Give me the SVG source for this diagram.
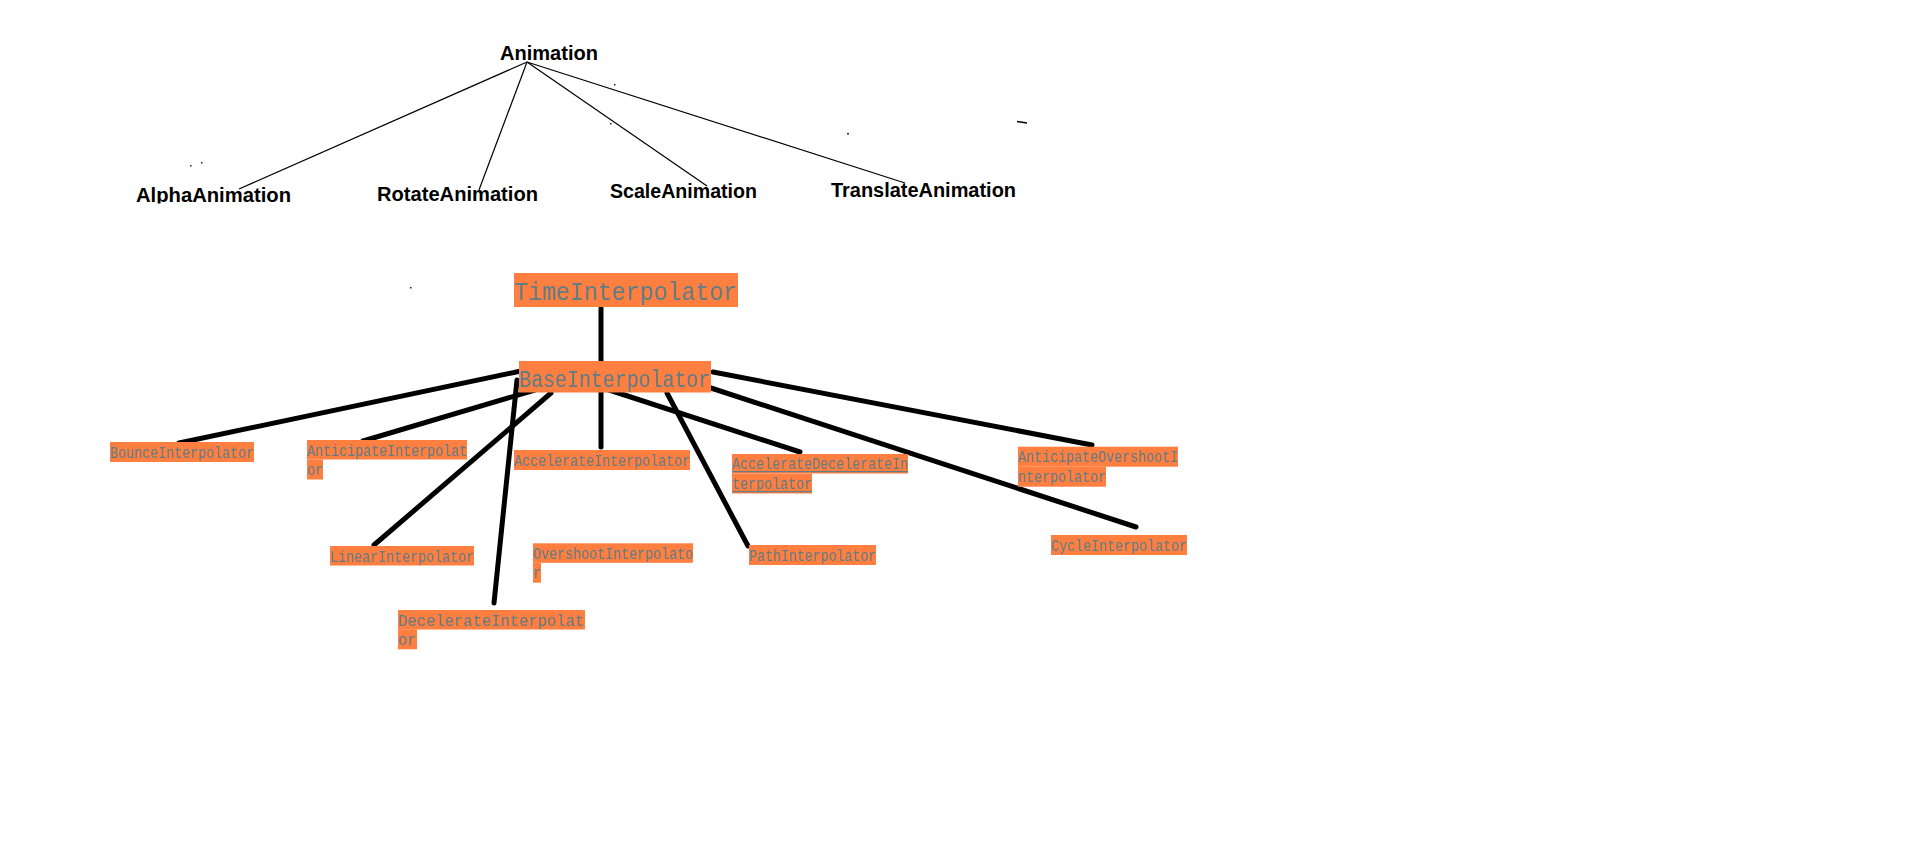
<svg xmlns="http://www.w3.org/2000/svg" width="1914" height="868" viewBox="0 0 1914 868">
<style>
.bg{fill:#ffffff}
.top{stroke:#000;stroke-width:1.2;fill:none}
.thick{stroke:#000;stroke-width:5;stroke-linecap:round;fill:none}
.hl{fill:#FF7F41}
.lbl{font-family:"Liberation Mono","DejaVu Sans Mono",monospace;font-size:16px;fill:#617D86}
.big{font-family:"Liberation Mono","DejaVu Sans Mono",monospace;fill:#617D86}
.anim{font-family:"Liberation Sans",Arial,sans-serif;font-weight:bold;font-size:20px;fill:#000}
.ul{stroke:#617D86;stroke-width:1.2}
.speck{fill:#222}
</style>
<defs>
<clipPath id="clipAlpha"><rect x="120" y="170" width="200" height="33.5"/></clipPath>
</defs>
<rect class="bg" x="0" y="0" width="1914" height="868"/>

<g id="connectors">
<line class="top" x1="527" y1="62" x2="239" y2="189"/>
<line class="top" x1="527" y1="62" x2="479" y2="190"/>
<line class="top" x1="527" y1="62" x2="707" y2="186"/>
<line class="top" x1="527" y1="62" x2="905" y2="183"/>
<line class="thick" x1="601" y1="308" x2="601" y2="361"/>
<line class="thick" x1="521" y1="371" x2="179" y2="443"/>
<line class="thick" x1="535" y1="390" x2="363" y2="441"/>
<line class="thick" x1="517" y1="380" x2="494" y2="603"/>
<line class="thick" x1="551" y1="393" x2="374" y2="545"/>
<line class="thick" x1="601" y1="388" x2="601" y2="447"/>
<line class="thick" x1="603" y1="388" x2="800" y2="452"/>
<line class="thick" x1="667" y1="393" x2="748" y2="546"/>
<line class="thick" x1="711" y1="388" x2="1136" y2="527"/>
<line class="thick" x1="713" y1="372" x2="1092" y2="445"/>
</g>

<g id="Animation"><text class="anim" x="500" y="60" textLength="98" lengthAdjust="spacingAndGlyphs">Animation</text></g>
<g id="AlphaAnimation" clip-path="url(#clipAlpha)"><text class="anim" x="136" y="202" textLength="155" lengthAdjust="spacingAndGlyphs">AlphaAnimation</text></g>
<g id="RotateAnimation"><text class="anim" x="377" y="201" textLength="161" lengthAdjust="spacingAndGlyphs">RotateAnimation</text></g>
<g id="ScaleAnimation"><text class="anim" x="610" y="198" textLength="147" lengthAdjust="spacingAndGlyphs">ScaleAnimation</text></g>
<g id="TranslateAnimation"><text class="anim" x="831" y="196.5" textLength="185" lengthAdjust="spacingAndGlyphs">TranslateAnimation</text></g>

<g id="TimeInterpolator">
<rect class="hl" x="514" y="273" width="224" height="34"/>
<text class="big" x="514" y="299.5" font-size="26" textLength="223" lengthAdjust="spacingAndGlyphs">TimeInterpolator</text>
</g>
<g id="BaseInterpolator">
<rect class="hl" x="519" y="361" width="192" height="31.5"/>
<text class="big" x="519" y="387" font-size="23" textLength="191" lengthAdjust="spacingAndGlyphs">BaseInterpolator</text>
</g>

<g id="BounceInterpolator">
<rect class="hl" x="110" y="442" width="144" height="20"/>
<text class="lbl" x="110" y="457.5" textLength="144" lengthAdjust="spacingAndGlyphs">BounceInterpolator</text>
</g>
<g id="AnticipateInterpolator">
<rect class="hl" x="307" y="440" width="160" height="19.5"/>
<rect class="hl" x="307" y="459.5" width="16" height="20"/>
<text class="lbl" x="307" y="455.5" textLength="160" lengthAdjust="spacingAndGlyphs">AnticipateInterpolat</text>
<text class="lbl" x="307" y="475" textLength="16" lengthAdjust="spacingAndGlyphs">or</text>
</g>
<g id="AccelerateInterpolator">
<rect class="hl" x="514" y="450" width="176" height="20"/>
<text class="lbl" x="514" y="465.5" textLength="176" lengthAdjust="spacingAndGlyphs">AccelerateInterpolator</text>
</g>
<g id="AccelerateDecelerateInterpolator">
<rect class="hl" x="732" y="454" width="176" height="19.5"/>
<rect class="hl" x="732" y="473.5" width="80" height="20"/>
<text class="lbl" x="732" y="469" textLength="176" lengthAdjust="spacingAndGlyphs">AccelerateDecelerateIn</text>
<text class="lbl" x="732" y="489" textLength="80" lengthAdjust="spacingAndGlyphs">terpolator</text>
<line class="ul" x1="732" y1="471.7" x2="908" y2="471.7"/>
<line class="ul" x1="732" y1="491.7" x2="812" y2="491.7"/>
</g>
<g id="AnticipateOvershootInterpolator">
<rect class="hl" x="1018" y="446.7" width="160" height="20"/>
<rect class="hl" x="1018" y="466.7" width="88" height="20"/>
<text class="lbl" x="1018" y="462" textLength="160" lengthAdjust="spacingAndGlyphs">AnticipateOvershootI</text>
<text class="lbl" x="1018" y="482" textLength="88" lengthAdjust="spacingAndGlyphs">nterpolator</text>
</g>
<g id="LinearInterpolator">
<rect class="hl" x="330" y="546" width="144" height="19.5"/>
<text class="lbl" x="330" y="561.5" textLength="144" lengthAdjust="spacingAndGlyphs">LinearInterpolator</text>
</g>
<g id="OvershootInterpolator">
<rect class="hl" x="533" y="543.3" width="160" height="19.5"/>
<rect class="hl" x="533" y="562.7" width="8" height="20"/>
<text class="lbl" x="533" y="558.5" textLength="160" lengthAdjust="spacingAndGlyphs">OvershootInterpolato</text>
<text class="lbl" x="533" y="578" textLength="8" lengthAdjust="spacingAndGlyphs">r</text>
</g>
<g id="DecelerateInterpolator">
<rect class="hl" x="398" y="610" width="187" height="19.5"/>
<rect class="hl" x="398" y="629.3" width="19" height="20"/>
<text class="lbl" x="398" y="625.5" textLength="186" lengthAdjust="spacingAndGlyphs">DecelerateInterpolat</text>
<text class="lbl" x="398" y="645" textLength="18" lengthAdjust="spacingAndGlyphs">or</text>
</g>
<g id="PathInterpolator">
<rect class="hl" x="749" y="545" width="127" height="20"/>
<text class="lbl" x="749" y="560.5" textLength="127" lengthAdjust="spacingAndGlyphs">PathInterpolator</text>
</g>
<g id="CycleInterpolator">
<rect class="hl" x="1051" y="535" width="136" height="20"/>
<text class="lbl" x="1051" y="550.5" textLength="136" lengthAdjust="spacingAndGlyphs">CycleInterpolator</text>
</g>

<g id="specks">
<rect class="speck" x="190" y="165" width="1.5" height="1.5"/>
<rect class="speck" x="201" y="162" width="1.5" height="1.5"/>
<rect class="speck" x="614" y="84" width="1.5" height="1.5"/>
<rect class="speck" x="610" y="123" width="1.5" height="1.5"/>
<rect class="speck" x="847" y="133" width="2" height="1.5"/>
<line x1="1017" y1="121.5" x2="1027" y2="123" stroke="#000" stroke-width="1.5"/>
<rect class="speck" x="410" y="287" width="1.5" height="1.5"/>
</g>
</svg>
